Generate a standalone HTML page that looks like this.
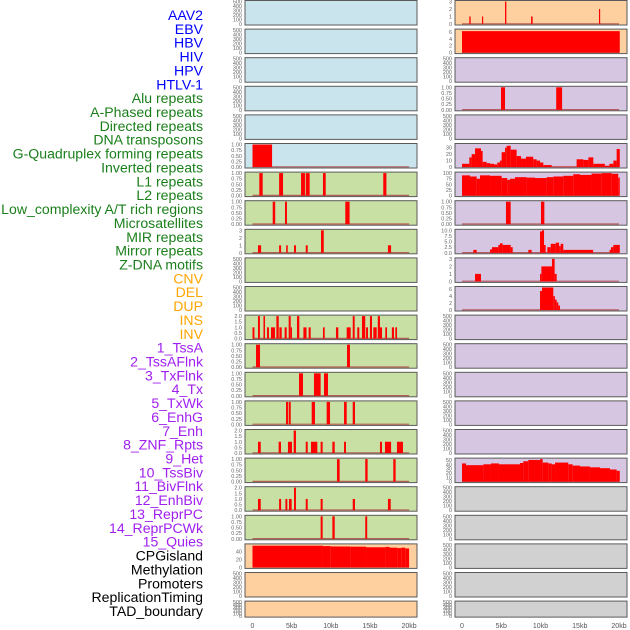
<!DOCTYPE html>
<html><head><meta charset="utf-8"><style>
html,body{margin:0;padding:0;background:#fff;}
svg{display:block;font-family:"Liberation Sans",sans-serif;}
</style></head><body>
<svg id="chart" width="630" height="630" viewBox="0 0 630 630" xmlns="http://www.w3.org/2000/svg"></svg>
<script>
const labels=["AAV2","EBV","HBV","HIV","HPV","HTLV-1","Alu repeats","A-Phased repeats","Directed repeats","DNA transposons","G-Quadruplex forming repeats","Inverted repeats","L1 repeats","L2 repeats","Low_complexity A/T rich regions","Microsatellites","MIR repeats","Mirror repeats","Z-DNA motifs","CNV","DEL","DUP","INS","INV","1_TssA","2_TssAFlnk","3_TxFlnk","4_Tx","5_TxWk","6_EnhG","7_Enh","8_ZNF_Rpts","9_Het","10_TssBiv","11_BivFlnk","12_EnhBiv","13_ReprPC","14_ReprPCWk","15_Quies","CPGisland","Methylation","Promoters","ReplicationTiming","TAD_boundary"];
const labelColors=["#0000ff","#0000ff","#0000ff","#0000ff","#0000ff","#0000ff","#1a7f1a","#1a7f1a","#1a7f1a","#1a7f1a","#1a7f1a","#1a7f1a","#1a7f1a","#1a7f1a","#1a7f1a","#1a7f1a","#1a7f1a","#1a7f1a","#1a7f1a","#ffa500","#ffa500","#ffa500","#ffa500","#ffa500","#a020f0","#a020f0","#a020f0","#a020f0","#a020f0","#a020f0","#a020f0","#a020f0","#a020f0","#a020f0","#a020f0","#a020f0","#a020f0","#a020f0","#a020f0","#000","#000","#000","#000","#000"];
const panelColors=["#c9e4ec","#c9e4ec","#c9e4ec","#c9e4ec","#c9e4ec","#c9e4ec","#c8e0a3","#c8e0a3","#c8e0a3","#c8e0a3","#c8e0a3","#c8e0a3","#c8e0a3","#c8e0a3","#c8e0a3","#c8e0a3","#c8e0a3","#c8e0a3","#c8e0a3","#fecf9f","#fecf9f","#fecf9f","#fecf9f","#fecf9f","#d6c6e2","#d6c6e2","#d6c6e2","#d6c6e2","#d6c6e2","#d6c6e2","#d6c6e2","#d6c6e2","#d6c6e2","#d6c6e2","#d6c6e2","#d6c6e2","#d6c6e2","#d6c6e2","#d6c6e2","#d1d1d1","#d1d1d1","#d1d1d1","#d1d1d1","#d1d1d1"];
const xTicks=[0,5,10,15,20];
const xTickLabels=["0","5kb","10kb","15kb","20kb"];
const ticksEmpty=[0,100,200,300,400,500];
const segL5=[[0,2.5,1]];
const segL6=[[0.87,1.3,1],[3.4,3.9,1],[6.2,6.7,1],[6.8,7.3,1],[9.0,9.35,1],[16.7,17.1,1]];
const segL7=[[2.58,2.9,1],[4.15,4.4,1],[11.85,12.4,1]];
const segL8=[[0.7,1.1,1],[3.4,3.65,1],[4.3,4.5,1],[5.3,5.55,1],[6.8,7.05,1],[8.75,9.1,3],[17.3,17.7,1]];
const segL11=[[0,0.25,1],[0.7,0.95,2],[1.4,1.6,2],[1.85,2.1,1],[2.36,2.87,1],[3.05,3.35,2],[3.43,3.73,1],[4.1,4.37,1],[4.62,4.88,2],[4.88,5.04,1],[5.68,5.98,2],[6.5,6.9,1],[7.17,7.43,1],[9.0,9.22,1],[10.66,10.96,1],[12.03,12.54,1],[12.8,13.05,2],[13.38,13.64,1],[13.98,14.4,2],[14.5,14.75,1],[15.0,15.26,2],[15.43,15.86,1],[16.0,16.28,2],[16.28,16.54,1],[16.96,17.18,1],[17.8,18.07,1],[18.24,18.46,1]];
const segL12=[[0.45,0.96,1],[12.07,12.45,1]];
const segL13=[[5.94,6.45,1],[7.85,8.7,1],[9.13,9.64,1]];
const segL14=[[4.28,4.53,1],[4.62,4.88,1],[7.56,7.98,1],[9.47,9.9,1],[11.69,12.03,1],[12.8,13.09,1]];
const segL15=[[0.7,1.05,1],[3.34,3.64,1],[4.53,5.04,1],[5.26,5.55,2],[6.8,7.05,1],[7.47,8.28,1],[8.7,8.96,1],[10.2,10.5,1],[11.69,11.94,1],[16.28,16.54,1],[16.92,17.7,1],[18.45,19.22,1]];
const segL16=[[10.79,11.13,1],[14.4,14.7,1],[17.98,18.28,1]];
const segL17=[[0.7,1.05,1],[3.4,3.65,1],[4.2,4.45,1],[4.66,5.0,1],[5.3,5.55,2],[6.8,7.05,1],[8.7,8.96,1],[12.8,13.09,1],[17.3,17.65,1]];
const segL18=[[8.7,8.96,1],[10.2,10.5,1],[14.4,14.65,1]];
const segL19=[[0,9,55],[9,10,54],[10,12.5,53],[12.5,14.5,52.5],[14.5,17,51],[17,17.5,52],[17.5,18.5,50],[18.5,19,49],[19,19.5,50],[19.5,20,48]];
const segR0=[[0.93,1.1,1],[2.55,2.7,1],[5.48,5.65,3],[8.8,9.0,1],[17.45,17.6,2]];
const segR1=[[0,20.1,6.2]];
const segR3=[[4.97,5.48,1],[12.0,12.75,1]];
const segR5=[[0,0.93,5],[0.93,1.23,15],[1.23,1.66,20],[1.66,2.42,29],[2.42,2.63,25],[2.63,3.14,8],[3.14,3.57,6],[3.57,4.08,5],[4.08,4.5,4],[4.5,4.84,7],[4.84,5.05,10],[5.05,5.48,23],[5.48,5.69,30],[5.69,6.2,33],[6.2,6.96,27],[6.96,7.52,17],[7.52,8.15,13],[8.15,9.08,16],[9.08,9.51,12],[9.51,9.94,10],[9.94,10.36,7],[10.36,11.42,3],[11.42,14.6,0.5],[14.6,15.46,12],[15.46,16.1,11],[16.1,16.73,15],[16.73,18.2,5],[18.2,18.77,2],[18.77,19.28,5],[19.28,19.7,10],[19.7,20.1,28]];
const segR6=[[0,1.02,90],[1.02,1.87,85],[1.87,2.29,75],[2.29,3.57,90],[3.57,5.05,88],[5.05,5.77,78],[5.77,6.11,70],[6.11,6.75,75],[6.75,8.23,82],[8.23,9.3,80],[9.3,10.78,78],[10.78,11.63,82],[11.63,12.9,85],[12.9,14.17,88],[14.17,15.03,95],[15.03,16.5,92],[16.5,17.8,98],[17.8,19.07,100],[19.07,19.9,97],[19.9,20.1,80]];
const segR7=[[5.6,6.2,1],[10.06,10.49,1]];
const segR8=[[1.44,1.87,1.3],[3.57,3.82,1.5],[3.82,4.63,2.5],[4.63,4.84,3.5],[4.84,5.18,4.2],[5.18,6.2,3.5],[6.2,6.46,2.5],[8.45,8.87,1.3],[9.94,10.19,9.5],[10.19,10.45,10],[10.45,10.66,3.5],[10.87,11.3,2.5],[11.3,11.94,4],[11.94,12.37,4.5],[12.37,12.57,3],[12.57,12.9,4],[12.9,16.7,1.3],[18.8,18.98,1.3],[18.98,19.28,2.5],[19.28,20.1,3.5]];
const segR9=[[1.66,2.42,1],[9.94,10.11,1],[10.11,11.46,2],[11.46,11.8,3],[11.8,12.06,1]];
const segR10=[[9.94,10.19,5.5],[10.19,11.63,6.5],[11.63,11.84,4],[11.84,12.06,3],[12.06,12.27,2.2],[12.27,12.48,1.3]];
const segR16=[[0,0.51,42],[0.51,2.72,38],[2.72,3.69,40],[3.69,4.71,42],[4.71,7.39,40],[7.39,7.81,43],[7.81,8.45,47],[8.45,9.94,50],[9.94,10.28,52],[10.28,11.0,44],[11.0,11.42,42],[11.42,11.85,40],[11.85,13.54,44],[13.54,14.1,40],[14.1,15.03,37],[15.03,16.3,35],[16.3,17.58,33],[17.58,18.85,31],[18.85,19.7,28],[19.7,20.1,25]];
const trackSegs={5:segL5,6:segL6,7:segL7,8:segL8,11:segL11,12:segL12,13:segL13,14:segL14,15:segL15,16:segL16,17:segL17,18:segL18,19:segL19,22:segR0,23:segR1,25:segR3,27:segR5,28:segR6,29:segR7,30:segR8,31:segR9,32:segR10,38:segR16};
const trackMax={5:1,6:1,7:1,8:3,11:2,12:1,13:1,14:1,15:2,16:1,17:2,18:1,19:57,22:3,23:6.5,25:1,27:35,28:100,29:1,30:10,31:3,32:6.5,38:52};
const trackTicks={8:[0,1,2,3],11:[0,0.5,1,1.5,2],15:[0,0.5,1,1.5,2],17:[0,0.5,1,1.5,2],19:[0,20,40],22:[0,1,2,3],23:[0,2,4,6],27:[0,10,20,30],28:[0,25,50,75,100],30:[0,2.5,5,7.5,10],31:[0,1,2,3],32:[0,2,4,6],38:[0,10,20,30,40,50]};

const NS="http://www.w3.org/2000/svg";
const svg=document.getElementById('chart');
function el(tag,attrs,parent){const e=document.createElementNS(NS,tag);for(const k in attrs)e.setAttribute(k,attrs[k]);(parent||svg).appendChild(e);return e;}

labels.forEach((t,i)=>{
  const tx=el('text',{x:203,y:15+i*13.86+5,'text-anchor':'end','font-size':'14.1',fill:labelColors[i]});
  
  
  tx.textContent=t;
});

for(let idx=0;idx<44;idx++){
  const col=idx<22?0:1, row=idx%22;
  const px=col?455:245, pw=172;
  const top=row*28.6+0.5, h=row===21?16:24.5, bottom=top+h;
  const x0=col?462:252.5, kx=col?7.85:7.83;
  const xs=kb=>x0+kb*kx;
  const g=el('g',{});
  
  
  el('rect',{x:px,y:top,width:pw,height:h,fill:panelColors[idx],stroke:'#5a5a5a','stroke-width':1},g);
  const segs=trackSegs[idx];
  const ymax=trackMax[idx]||500;
  const ys=v=>bottom-1-v/ymax*(h-2);
  let tv, unit=false;
  if(!segs){tv=ticksEmpty;}
  else if(trackTicks[idx]){tv=trackTicks[idx];}
  else {tv=[0,0.25,0.5,0.75,1];unit=true;}
  const dec=tv.some(v=>v%1!==0)&&!unit;
  tv.forEach(v=>{
    const t=el('text',{x:px-3,y:ys(v)+2,'text-anchor':'end','font-size':'5.5',fill:'#666'},g);
    
    
    t.textContent=unit?v.toFixed(2):(dec?v.toFixed(1):String(v));
  });
  if(segs){
    el('line',{x1:xs(0),x2:xs(20),y1:bottom-1.2,y2:bottom-1.2,stroke:'#b04040','stroke-width':1.2,opacity:0.8},g);
    segs.forEach(s=>{
      const r=el('rect',{x:xs(s[0]),y:ys(s[2]),width:Math.max(xs(s[1])-xs(s[0]),1),height:ys(0)-ys(s[2]),fill:'#ff0000'},g);
      
      
    });
  }
}
[0,1].forEach(col=>{
  const x0=col?462:252.5, kx=col?7.85:7.83;
  xTicks.forEach((v,i)=>{
    const t=el('text',{x:x0+v*kx,y:628,'text-anchor':'middle','font-size':'7',fill:'#555'});
    
    
    t.textContent=xTickLabels[i];
  });
});
</script>
</body></html>
